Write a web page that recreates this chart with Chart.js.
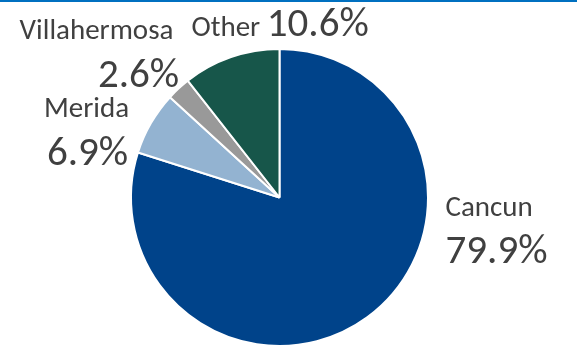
<!DOCTYPE html>
<html>
<head>
<meta charset="utf-8">
<script src="https://cdn.jsdelivr.net/npm/chart.js@4/dist/chart.umd.min.js"></script>
<style>
	html, body { margin: 0; padding: 0; background: #fff; }
	#wrap { width: 577px; height: 354px; position: relative; }
</style>
</head>
<body>
<div id="wrap"><canvas id="myChart"></canvas></div>
<script>
(() => {
	"use strict";

	const cities = ["Cancun", "Merida", "Villahermosa", "Other"];
	const shares = [79.9, 6.9, 2.6, 10.6];
	const colors = ["#00438a", "#93b3d1", "#999999", "#17564a"];

	const FONT = "Carlito, Calibri, Lato, sans-serif";
	const TEXT = "#404040";
	const NAME_PX = 29;
	const VALUE_PX = 41;

	// where each label sits, relative to the pie centre (px)
	// name/value: [x, baseline, align]
	const placement = [
		{ name: [166, 18, "left"], value: [166, 65, "left"] },
		{ name: [-193, -81, "center"], value: [-192, -33, "center"] },
		{ name: [-183, -159, "center"], value: [-141, -111, "center"] },
		{ name: [-88, -162, "left"], value: null, inline: true },
	];

	const topRule = {
		id: "topRule",
		beforeDraw(chart) {
			const c = chart.ctx;
			c.save();
			c.fillStyle = "#0070c0";
			c.fillRect(0, 0, chart.width, 2);
			c.restore();
		},
	};

	const pieLabels = {
		id: "pieLabels",
		afterDatasetsDraw(chart) {
			const c = chart.ctx;
			const arcs = chart.getDatasetMeta(0).data;
			c.save();
			c.fillStyle = TEXT;
			c.textBaseline = "alphabetic";
			arcs.forEach((arc, i) => {
				const p = placement[i];
				const name = cities[i];
				const val = shares[i].toFixed(1) + "%";
				c.font = NAME_PX + "px " + FONT;
				c.textAlign = p.name[2];
				c.fillText(name, arc.x + p.name[0], arc.y + p.name[1]);
				if (p.inline) {
					const w = c.measureText(name + " ").width;
					c.font = VALUE_PX + "px " + FONT;
					c.textAlign = "left";
					c.fillText(val, arc.x + p.name[0] + w, arc.y + p.name[1]);
				} else {
					c.font = VALUE_PX + "px " + FONT;
					c.textAlign = p.value[2];
					c.fillText(val, arc.x + p.value[0], arc.y + p.value[1]);
				}
			});
			c.restore();
		},
	};

	const ctx = document.getElementById("myChart");
	// eslint-disable-next-line no-unused-vars
	const myChart = new Chart(ctx, {
		type: "pie",
		data: {
			labels: cities,
			datasets: [
				{
					data: shares,
					backgroundColor: colors,
					borderColor: "#ffffff",
					borderWidth: 2,
				},
			],
		},
		options: {
			responsive: true,
			maintainAspectRatio: false,
			animation: false,
			layout: {
				padding: { top: 48, bottom: 7, left: 130, right: 148 },
			},
			plugins: {
				legend: { display: false },
				tooltip: { enabled: false },
			},
		},
		plugins: [topRule, pieLabels],
	});
})();
</script>
</body>
</html>
